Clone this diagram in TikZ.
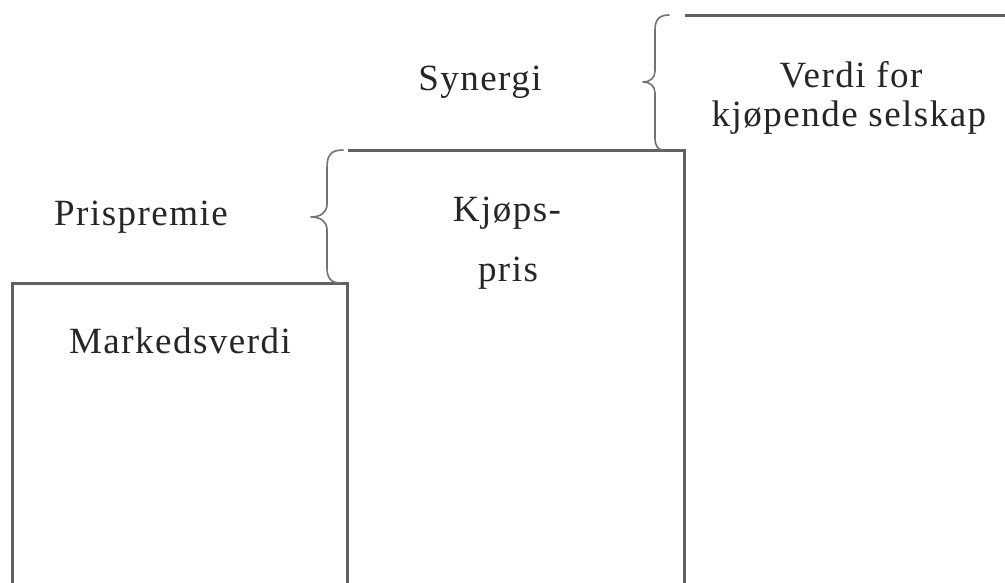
\documentclass[tikz,border=0pt]{standalone}
\usepackage{fontspec}
\setmainfont{Liberation Serif}[LetterSpace=4]
\begin{document}
\begin{tikzpicture}[x=1pt,y=-1pt,
  bar/.style={draw=black!62,line width=2.4pt},
  brace/.style={draw=black!55,line width=1.6pt,line cap=round,line join=round},
  lbl/.style={font=\fontsize{37}{44}\selectfont,text=black!85,align=center,inner sep=0pt}]
\useasboundingbox[fill=white] (0,0) rectangle (1005,583);
% the three stepped columns
\draw[bar] (12.5,585) -- (12.5,283.5) -- (347.5,283.5) -- (347.5,585);
\draw[bar] (347.5,150.5) -- (684.5,150.5) -- (684.5,585);
\draw[bar] (684.5,15.5) -- (1006,15.5);
% curly braces
\draw[brace] (343,150) .. controls (330,150) and (327,156) .. (327,168)
  -- (327,204) .. controls (327,213) and (320,217) .. (311,217)
  .. controls (320,217) and (327,221) .. (327,230)
  -- (327,268) .. controls (327,278) and (331,283) .. (341,283);
\draw[brace] (669,15) .. controls (659,15) and (655,20) .. (655,30)
  -- (655,71) .. controls (655,78) and (650,82) .. (643,82)
  .. controls (650,82) and (655,86) .. (655,93)
  -- (655,138) .. controls (655,146) and (658,150) .. (663,150);
% labels
\node[lbl] (syn) at (480,82) {Synergi};
\node[lbl] (pp) at (141,217) {Prispremie};
\node[lbl] (mv) at (180,341) {Markedsverdi};
\node[lbl] (kj) at (507,213) {Kjøps-};
\node[lbl] (pr) at (508,273) {pris};
\node[lbl] (vd) at (851,75) {Verdi for};
\node[lbl] (ks) at (849,118) {kjøpende selskap};
\end{tikzpicture}
\end{document}
